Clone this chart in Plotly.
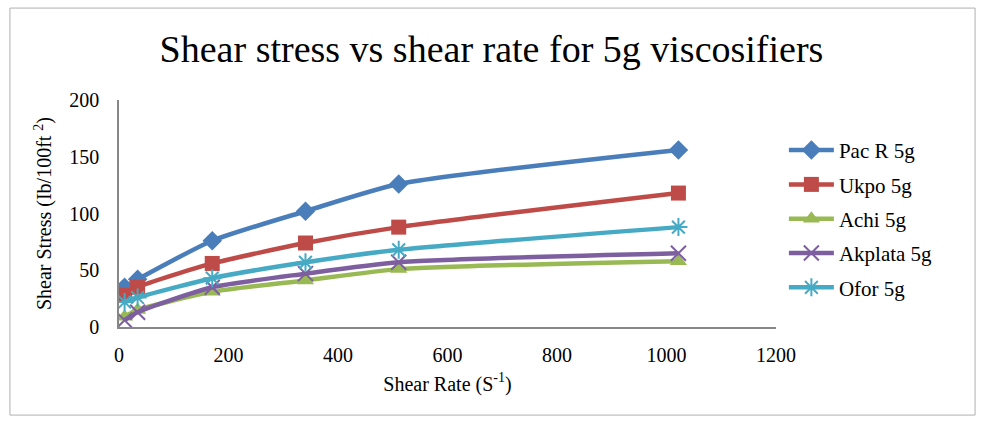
import plotly.graph_objects as go

shear_rate = [10.2, 34, 170.3, 340.6, 510.9, 1021.8]
pac_r = [35, 42, 76, 102, 126, 156]
ukpo = [28, 35, 56, 74, 88, 118]
achi = [9, 15, 31, 41, 51, 58]
akplata = [6, 13, 35, 47, 57, 65]
ofor = [22, 26, 43, 57, 68, 88]

series = [
    ("Pac R 5g", pac_r, "#4A7EBB", "diamond", 15, None),
    ("Ukpo 5g", ukpo, "#BE4B48", "square", 15, None),
    ("Achi 5g", achi, "#98B954", "triangle-up", 15, None),
    ("Akplata 5g", akplata, "#7D5FA0", "x-thin", 15, 2),
    ("Ofor 5g", ofor, "#46AAC5", "asterisk", 15, 2),
]

FONT = "Liberation Serif, Times New Roman, serif"
fig = go.Figure()
for i, (name, ys, color, sym, size, lw) in enumerate(series):
    marker = dict(symbol=sym, size=size, color=color)
    if lw:
        marker["line"] = dict(color=color, width=lw)
    fig.add_trace(go.Scatter(
        x=shear_rate, y=ys, name=name, mode="lines+markers",
        line=dict(color=color, width=4.5, shape="spline", smoothing=0.6),
        marker=marker, legendgroup=f"g{i}",
    ))

fig.update_layout(
    width=983, height=423,
    margin=dict(l=119, r=207, t=100, b=96),
    paper_bgcolor="white", plot_bgcolor="white",
    font=dict(family=FONT, size=20, color="black"),
    title=dict(text="Shear stress vs shear rate for 5g viscosifiers",
               x=0.5, xanchor="center", xref="container", y=0.885, yanchor="middle",
               font=dict(family=FONT, size=38, color="black")),
    showlegend=True,
    legend=dict(x=1.012, xanchor="left", y=0.476, yanchor="middle",
                font=dict(family=FONT, size=21, color="black"),
                tracegroupgap=4, traceorder="grouped", itemwidth=45,
                bgcolor="rgba(0,0,0,0)"),
    xaxis=dict(range=[0, 1200], dtick=200, showgrid=False, zeroline=False,
               showline=True, linecolor="#878787", linewidth=1.5, ticks="",
               ticklabelstandoff=9,
               tickfont=dict(family=FONT, size=20),
               title=dict(text="Shear Rate (S<sup>-1</sup>)", standoff=12,
                          font=dict(family=FONT, size=20))),
    yaxis=dict(range=[0, 200], dtick=50, showgrid=False, zeroline=False,
               showline=True, linecolor="#878787", linewidth=1.5, ticks="",
               ticklabelstandoff=14,
               tickfont=dict(family=FONT, size=20),
               title=dict(text="Shear Stress (Ib/100ft <sup>2</sup>)", standoff=12,
                          font=dict(family=FONT, size=20))),
    shapes=[dict(type="rect", xref="paper", yref="paper",
                 x0=-0.166, x1=1.303, y0=-0.388, y1=1.405,
                 line=dict(color="#B0B0B0", width=1), layer="below")],
)

fig.write_html("out.html", config={"displayModeBar": False},
               post_script="document.body.style.margin='0';")
